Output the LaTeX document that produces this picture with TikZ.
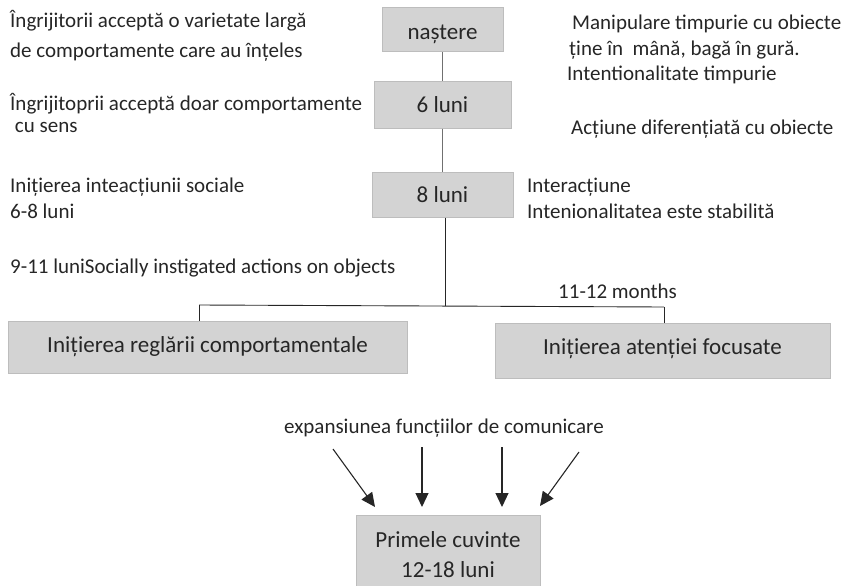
\documentclass[tikz,border=0pt]{standalone}
\usepackage{fontspec}
\setmainfont{Carlito}
\usetikzlibrary{arrows.meta}
\definecolor{boxfill}{HTML}{D3D3D3}
\definecolor{boxedge}{HTML}{BDBDBD}
\definecolor{ink}{HTML}{262626}
\definecolor{stem}{HTML}{707070}
\tikzset{
  txt/.style={inner sep=0pt, anchor=base west, text=ink, font=\fontsize{21}{25}\selectfont},
  stagebox/.style={draw=boxedge, line width=1pt, fill=boxfill, inner sep=0pt, text=ink,
    font=\fontsize{23}{28}\selectfont, text depth=0pt},
  stemline/.style={draw=stem, line width=1.1pt},
  treeline/.style={draw=ink, line width=0.9pt},
  feed/.style={draw=ink, line width=1.1pt, -{Triangle[length=14pt,width=13pt]}}
}
\begin{document}
\begin{tikzpicture}[x=1pt,y=-1pt]
\useasboundingbox (0,0) rectangle (843,586);

% timeline boxes
\node[stagebox, minimum width=121pt, minimum height=44pt, text height=20pt] (birth) at (442.5,30) {naștere};
\node[stagebox, minimum width=137pt, minimum height=47pt, text height=15pt] (six) at (442.5,104.5) {6 luni};
\node[stagebox, minimum width=141pt, minimum height=45pt, text height=15pt] (eight) at (442.5,194.5) {8 luni};

% branch boxes
\node[stagebox, minimum width=399pt, minimum height=52pt, text height=11pt] (reg) at (207.5,347) {Inițierea reglării comportamentale};
\node[stagebox, minimum width=335pt, minimum height=55pt, text height=7pt] (att) at (662.5,350.5) {Inițierea atenției focusate};

% final box, running off the lower edge
\node[stagebox, minimum width=184pt, minimum height=86pt, anchor=north] (words) at (448,515) {};
\node[txt, anchor=base, font=\fontsize{23}{28}\selectfont] (words1) at (words.north |- 0,547) {Primele cuvinte};
\node[txt, anchor=base, font=\fontsize{23}{28}\selectfont] (words2) at (words.north |- 0,577) {12-18 luni};

% stem between the first boxes
\draw[stemline] (birth) -- (six);
\draw[stemline] (six) -- (eight);

% split into the two branches
\coordinate (fork) at (445,306);
\coordinate (jl) at (199,305);
\coordinate (jr) at (664,307);
\draw[treeline] (eight.south -| fork) -- (fork);
\draw[treeline] (jl) -- (jr);
\draw[treeline] (jl) -- (jl |- reg.north);
\draw[treeline] (jr) -- (jr |- att.north);

% notes on the left
\node[txt] (l1) at (10,28) {Îngrijitorii acceptă o varietate largă};
\node[txt] (l2) at (10,58) {de comportamente care au înțeles};
\node[txt] (l3) at (10,110) {Îngrijitoprii acceptă doar comportamente};
\node[txt] (l4) at (10,132) {\ cu sens};
\node[txt] (l5) at (10,192) {Inițierea inteacțiunii sociale};
\node[txt] (l6) at (10,218) {6-8 luni};
\node[txt] (l7) at (10,273) {9-11 luniSocially instigated actions on objects};

% notes on the right
\node[txt] (r1) at (572,30) {Manipulare timpurie cu obiecte};
\node[txt] (r2) at (569,56) {ține în\ \ mână, bagă în gură.};
\node[txt] (r3) at (567,81) {Intentionalitate timpurie};
\node[txt] (r4) at (571,134) {Acțiune diferențiată cu obiecte};
\node[txt] (r5) at (527,192) {Interacțiune};
\node[txt] (r6) at (527,218) {Intenionalitatea este stabilită};
\node[txt] (r7) at (558,298) {11-12 months};

% communication functions feeding the first words
\node[txt, anchor=base] (comm) at (444,433) {expansiunea funcțiilor de comunicare};
\coordinate (s1) at (333,449); \coordinate (e1) at (375,507);
\coordinate (s2) at (422,447); \coordinate (e2) at (422,507);
\coordinate (s3) at (502,447); \coordinate (e3) at (502,507);
\coordinate (s4) at (579,452); \coordinate (e4) at (540,506);
\draw[feed] (s1) -- (e1);
\draw[feed] (s2) -- (e2);
\draw[feed] (s3) -- (e3);
\draw[feed] (s4) -- (e4);
\end{tikzpicture}
\end{document}
